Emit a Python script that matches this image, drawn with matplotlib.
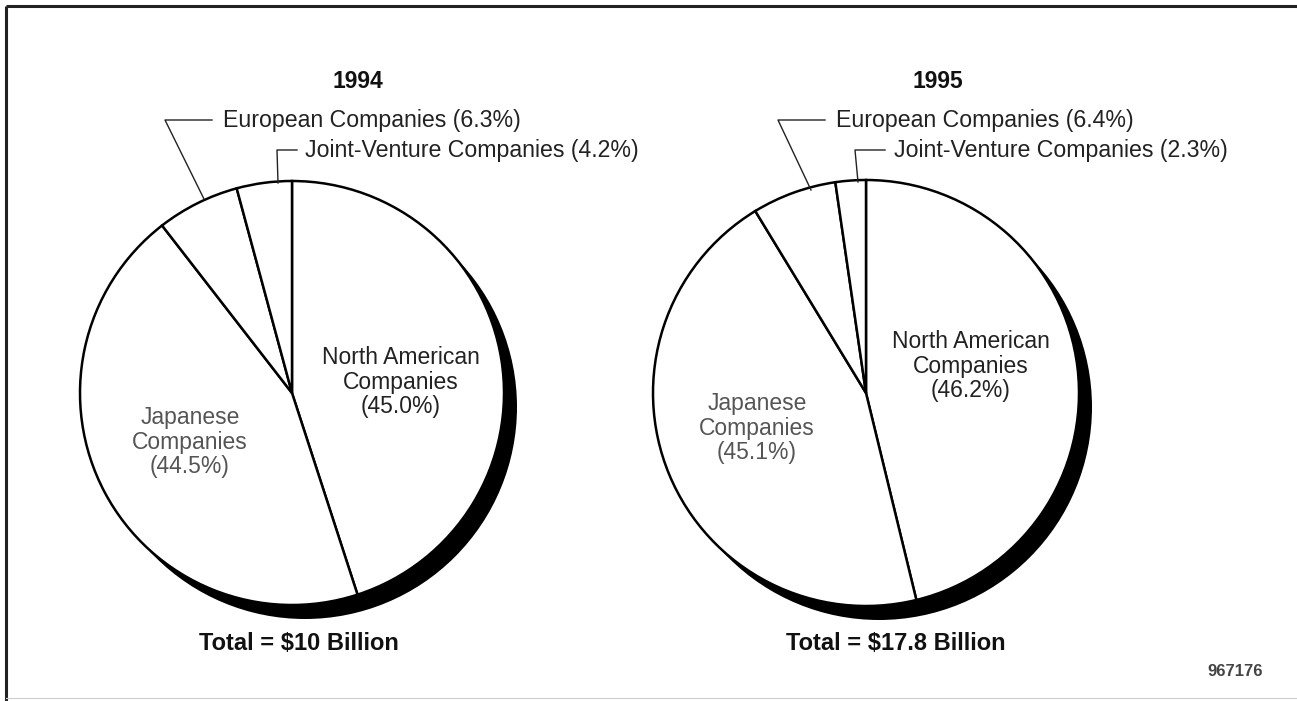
import matplotlib
matplotlib.use("Agg")
import matplotlib.pyplot as plt
from matplotlib.patches import Circle

# shares of the market by company origin, clockwise from 12 o'clock
segments = ["North American Companies", "Japanese Companies",
            "European Companies", "Joint-Venture Companies"]
share_1994 = [45.0, 44.5, 6.3, 4.2]
share_1995 = [46.2, 45.1, 6.4, 2.3]
years = ["1994", "1995"]
totals = ["Total = $10 Billion", "Total = $17.8 Billion"]

W, H = 1297, 701
FONT = "Liberation Sans"


def Y(y):
    # layout numbers are measured from the top edge
    return H - y


fig = plt.figure(figsize=(W / 100, H / 100), dpi=100)
ax = fig.add_axes([0, 0, 1, 1])

panels = [
    dict(shares=share_1994, year=years[0], total=totals[0], c=(292, 393), r=212, year_x=358,
         eu_line=[(212, 120), (165, 120), (204, 199)], eu_txt=(223, 120),
         jv_line=[(297, 150), (277, 150), (278, 183)], jv_txt=(305, 150),
         na_txt=(401, 382), jp_txt=(190, 442), total_x=299),
    dict(shares=share_1995, year=years[1], total=totals[1], c=(866, 393), r=213, year_x=938,
         eu_line=[(825, 120), (778, 120), (811, 190)], eu_txt=(836, 120),
         jv_line=[(885, 150), (855, 150), (858, 182)], jv_txt=(894, 150),
         na_txt=(971, 366), jp_txt=(757, 428), total_x=896),
]

for p in panels:
    cx, cy = p["c"][0], Y(p["c"][1])
    r = p["r"]
    # dark drop shadow offset down-right
    ax.add_patch(Circle((cx + 13, cy - 14), r, facecolor="black", edgecolor="none", zorder=1))
    ax.pie(p["shares"], center=(cx, cy), radius=r, startangle=90, counterclock=False,
           colors=["white"] * 4,
           wedgeprops=dict(edgecolor="black", linewidth=1.8, zorder=2))

    ax.text(p["year_x"], Y(81), p["year"], ha="center", va="center",
            fontsize=16.5, fontweight="bold", family=FONT, color="#111")

    # callouts for the two thin slices
    xs, ys = zip(*p["eu_line"])
    ax.plot(xs, [Y(v) for v in ys], color="#222", lw=1.0, zorder=3)
    ax.text(p["eu_txt"][0], Y(p["eu_txt"][1]), f"{segments[2]} ({p['shares'][2]:.1f}%)",
            ha="left", va="center", fontsize=16.7, family=FONT, color="#222")
    xs, ys = zip(*p["jv_line"])
    ax.plot(xs, [Y(v) for v in ys], color="#222", lw=1.0, zorder=3)
    ax.text(p["jv_txt"][0], Y(p["jv_txt"][1]), f"{segments[3]} ({p['shares'][3]:.1f}%)",
            ha="left", va="center", fontsize=16.7, family=FONT, color="#222")

    # labels inside the two large slices
    ax.text(p["na_txt"][0], Y(p["na_txt"][1]), f"North American\nCompanies\n({p['shares'][0]:.1f}%)",
            ha="center", va="center", fontsize=16.5, family=FONT, color="#222",
            linespacing=1.1, zorder=4)
    ax.text(p["jp_txt"][0], Y(p["jp_txt"][1]), f"Japanese\nCompanies\n({p['shares'][1]:.1f}%)",
            ha="center", va="center", fontsize=16.5, family=FONT, color="#555",
            linespacing=1.1, zorder=4)

    ax.text(p["total_x"], Y(643), p["total"], ha="center", va="center",
            fontsize=17, fontweight="bold", family=FONT, color="#111")

ax.text(1235, Y(672), "967176", ha="center", va="center", fontsize=12,
        fontweight="bold", family=FONT, color="#444")

# outer frame
ax.plot([6, W], [Y(6), Y(6)], color="#222", lw=2.2, solid_capstyle="butt")
ax.plot([6, 6], [Y(6), 0], color="#222", lw=2.2, solid_capstyle="butt")
ax.plot([6, W], [Y(698), Y(698)], color="#ccc", lw=0.8)

ax.set_xlim(0, W)
ax.set_ylim(0, H)
ax.set_aspect("auto")
ax.axis("off")

fig.savefig("out.png", dpi=100, facecolor="white")
